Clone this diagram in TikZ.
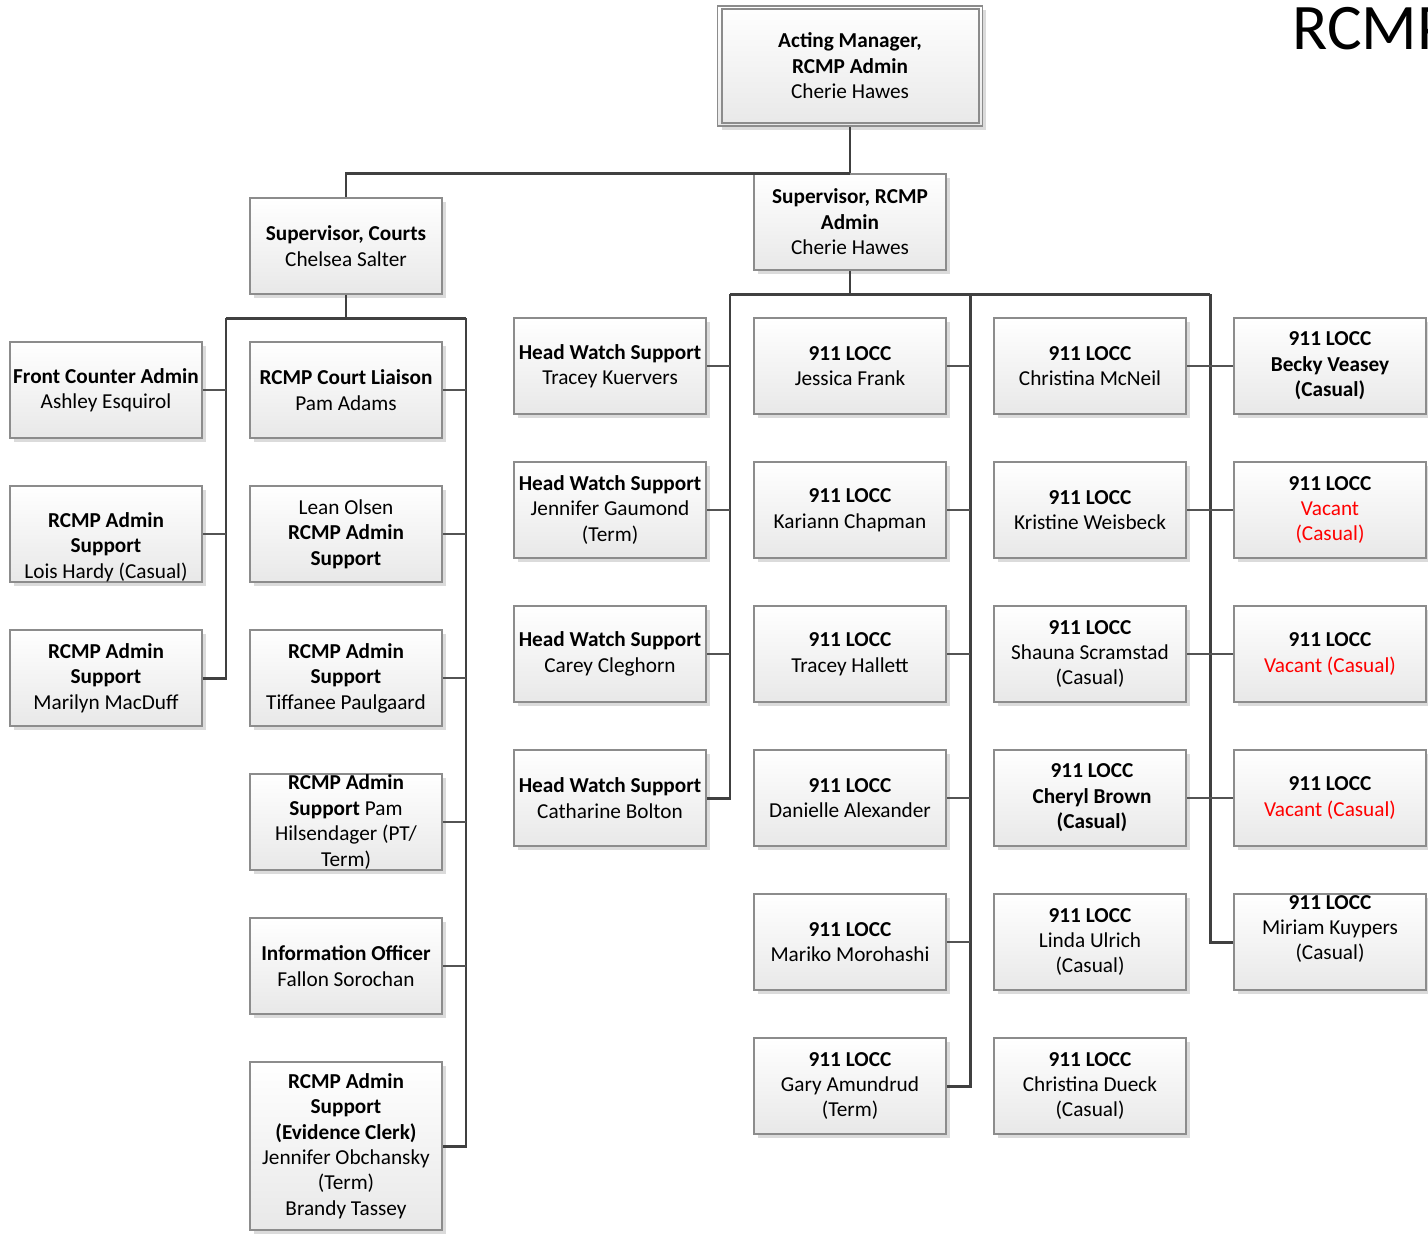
\documentclass[tikz,border=0pt]{standalone}
\usepackage{fontspec}
\setmainfont{Carlito}
\usetikzlibrary{shadows}
\definecolor{boxborder}{HTML}{8C8C8C}
\definecolor{linedark}{HTML}{404040}
\definecolor{vacred}{HTML}{FF0000}
\newcommand\orgfont{\fontsize{12.1}{14.5}\selectfont}
\tikzset{
  orgbox/.style={draw=boxborder, line width=0.9pt, top color=white, bottom color=black!9,
    minimum width=3.84cm, minimum height=1.92cm, inner sep=0pt, align=center, font=\orgfont,
    drop shadow={shadow xshift=0.08cm, shadow yshift=-0.08cm, fill=black!28, opacity=0.5}},
  orgtext/.style={inner sep=0pt, align=center, font=\orgfont},
  trunk/.style={draw=linedark, line width=1.7pt},
  branch/.style={draw=linedark!90, line width=1.4pt},
}
\begin{document}
\begin{tikzpicture}[x=0.02cm,y=-0.02cm]
\useasboundingbox (0,0) rectangle (1428,1235);
\begin{scope}
\clip (0,0) rectangle (1428,1235);
\node[anchor=base west, inner sep=0pt, font=\fontsize{37}{40}\selectfont] (title) at (1292,49) {RCMP};
\end{scope}

% top
\node[orgbox, minimum width=5.3cm, minimum height=2.4cm] (top) at (850,66)
  {\textbf{Acting Manager,}\\\textbf{RCMP Admin}\\Cherie Hawes};
\draw[boxborder, line width=0.9pt] ([xshift=0.1cm,yshift=-0.08cm]top.north west) rectangle ([xshift=-0.08cm,yshift=0.08cm]top.south east);

\node[orgbox] (sc) at (346,246) {\textbf{Supervisor, Courts}\\Chelsea Salter};
\node[orgbox] (sr) at (850,222) {\textbf{Supervisor, RCMP}\\\textbf{Admin}\\Cherie Hawes};

% column 1
\node[orgbox] (a1) at (106,390) {\textbf{Front Counter Admin}\\Ashley Esquirol};
\node[orgbox] (a2) at (106,534) {};
\node[orgtext] (a2t) at (106,547) {\textbf{RCMP Admin}\\\textbf{Support}\\Lois Hardy (Casual)};
\node[orgbox] (a3) at (106,678) {\textbf{RCMP Admin}\\\textbf{Support}\\Marilyn MacDuff};
% column 2
\node[orgbox] (b1) at (346,390) {\textbf{RCMP Court Liaison}\\Pam Adams};
\node[orgbox] (b2) at (346,534) {Lean Olsen\\\textbf{RCMP Admin}\\\textbf{Support}};
\node[orgbox] (b3) at (346,678) {\textbf{RCMP Admin}\\\textbf{Support}\\Tiffanee Paulgaard};
\node[orgbox] (b4) at (346,822) {};
\node[orgtext] (b4t) at (346,822) {\textbf{RCMP Admin}\\\textbf{Support} Pam\\Hilsendager (PT/\\Term)};
\node[orgbox] (b5) at (346,966) {\textbf{Information Officer}\\Fallon Sorochan};
\node[orgbox, minimum height=3.36cm] (b6) at (346,1146) {\textbf{RCMP Admin}\\\textbf{Support}\\\textbf{(Evidence Clerk)}\\Jennifer Obchansky\\(Term)\\Brandy Tassey};
% column 3
\node[orgbox] (c1) at (610,366) {\textbf{Head Watch Support}\\Tracey Kuervers};
\node[orgbox] (c2) at (610,510) {\textbf{Head Watch Support}\\Jennifer Gaumond\\(Term)};
\node[orgbox] (c3) at (610,654) {\textbf{Head Watch Support}\\Carey Cleghorn};
\node[orgbox] (c4) at (610,798) {\textbf{Head Watch Support}\\Catharine Bolton};
% column 4
\node[orgbox] (d1) at (850,366) {\textbf{911 LOCC}\\Jessica Frank};
\node[orgbox] (d2) at (850,510) {\textbf{911 LOCC}\\Kariann Chapman};
\node[orgbox] (d3) at (850,654) {\textbf{911 LOCC}\\Tracey Hallett};
\node[orgbox] (d4) at (850,798) {\textbf{911 LOCC}\\Danielle Alexander};
\node[orgbox] (d5) at (850,942) {\textbf{911 LOCC}\\Mariko Morohashi};
\node[orgbox] (d6) at (850,1086) {\textbf{911 LOCC}\\Gary Amundrud\\(Term)};
% column 5
\node[orgbox] (e1) at (1090,366) {\textbf{911 LOCC}\\Christina McNeil};
\node[orgbox] (e2) at (1090,510) {\textbf{911 LOCC}\\Kristine Weisbeck};
\node[orgbox] (e3) at (1090,654) {\textbf{911 LOCC}\\Shauna Scramstad\\(Casual)};
\node[orgbox] (e4) at (1090,798) {};
\node[orgtext] (e4t) at (1092,798) {\textbf{911 LOCC}\\\textbf{Cheryl Brown}\\\textbf{(Casual)}};
\node[orgbox] (e5) at (1090,942) {\textbf{911 LOCC}\\Linda Ulrich\\(Casual)};
\node[orgbox] (e6) at (1090,1086) {\textbf{911 LOCC}\\Christina Dueck\\(Casual)};
% column 6
\node[orgbox] (f1) at (1330,366) {\textbf{911 LOCC}\\\textbf{Becky Veasey}\\\textbf{(Casual)}};
\node[orgbox] (f2) at (1330,510) {\textbf{911 LOCC}\\\textcolor{vacred}{Vacant}\\\textcolor{vacred}{(Casual)}};
\node[orgbox] (f3) at (1330,654) {\textbf{911 LOCC}\\\textcolor{vacred}{Vacant (Casual)}};
\node[orgbox] (f4) at (1330,798) {\textbf{911 LOCC}\\\textcolor{vacred}{Vacant (Casual)}};
\node[orgbox] (f5) at (1330,942) {};
\node[orgtext] (f5t) at (1330,929) {\textbf{911 LOCC}\\Miriam Kuypers\\(Casual)};

% connectors: top
\draw[trunk] (top.south) -- (sr.north);
\draw[trunk] (sr.north) -| (sc.north);

% courts
\coordinate (cl) at (226,318);
\coordinate (cr) at (466,318);
\draw[trunk] (sc.south) -- (sc.south |- cl);
\draw[trunk] (cl) -- (cr);
\draw[trunk] (cl) |- (a3.east);
\draw[trunk] (cr) |- (b6.east);
\foreach \n in {a1,a2} \draw[branch] (\n.east) -- (\n.east -| cl);
\foreach \n in {b1,b2,b3,b4,b5} \draw[branch] (\n.east) -- (\n.east -| cr);

% rcmp admin
\coordinate (rl) at (730,294);
\coordinate (rm) at (970,294);
\coordinate (rr) at (1210,294);
\draw[trunk] (sr.south) -- (sr.south |- rl);
\draw[trunk] (rl) -- (rr);
\draw[trunk] (rl) |- (c4.east);
\draw[trunk] (rm) |- (d6.east);
\draw[trunk] (rr) |- (f5.west);
\foreach \n in {c1,c2,c3} \draw[branch] (\n.east) -- (\n.east -| rl);
\foreach \n in {d1,d2,d3,d4,d5} \draw[branch] (\n.east) -- (\n.east -| rm);
\draw[branch] (e1.east) -- (f1.west);
\draw[branch] (e2.east) -- (f2.west);
\draw[branch] (e3.east) -- (f3.west);
\draw[branch] (e4.east) -- (f4.west);
\end{tikzpicture}
\end{document}
